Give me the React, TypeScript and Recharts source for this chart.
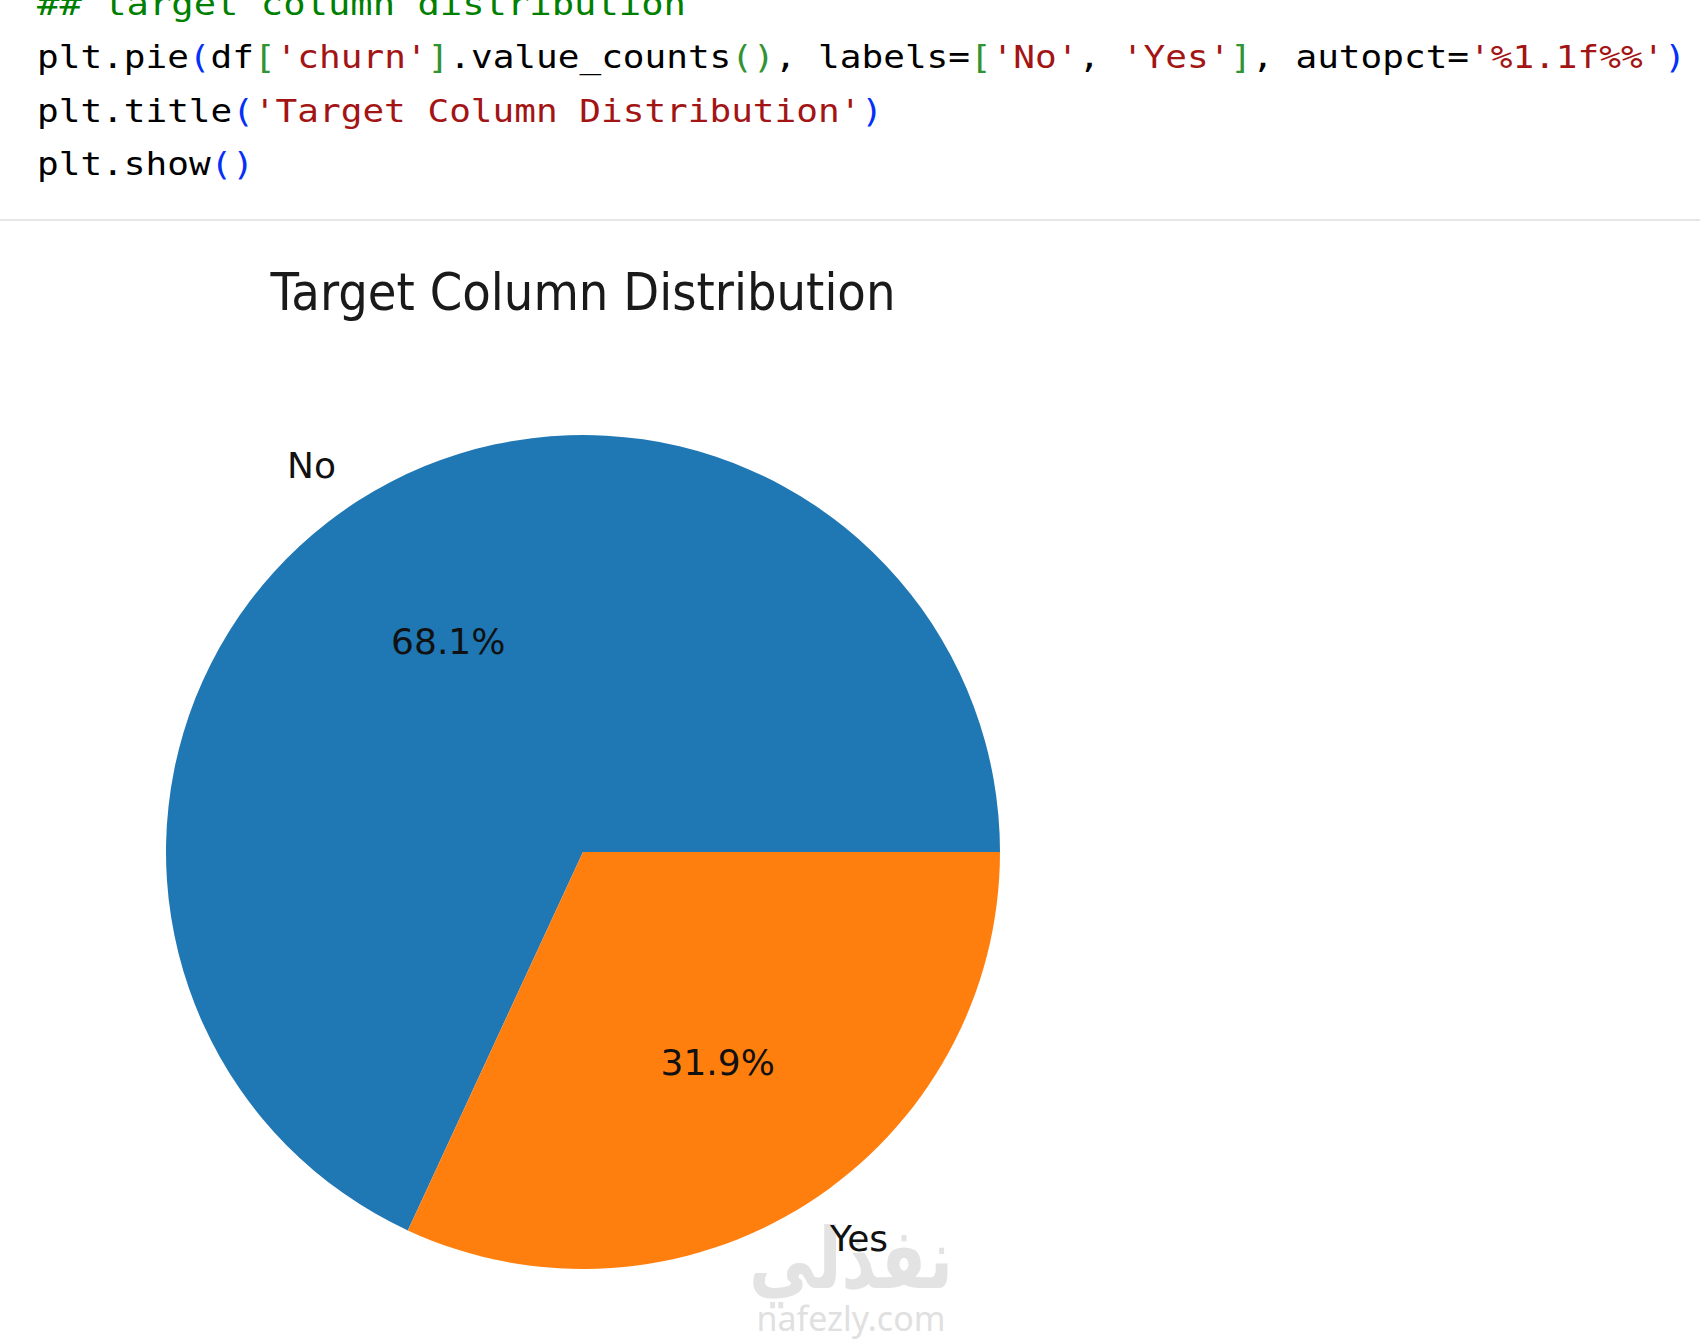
import { PieChart, Pie, Cell } from 'recharts'

// value_counts of churn, shown as shares
const categories = ['No', 'Yes']
const shares = [68.1, 31.9]
const sliceColors = ['#1f77b4', '#ff7f0e']

const pieData = categories.map((name, i) => ({ name, value: shares[i] }))

const K = '#000000'
const S = '#a31515'
const B1 = '#0431fa'
const B2 = '#319331'
const C = '#008000'

// notebook cell above the plot output
const codeLines: [string, string][][] = [
  [['## target column distribution', C]],
  [
    ['plt.pie', K], ['(', B1], ['df', K], ['[', B2], ["'churn'", S], [']', B2],
    ['.value_counts', K], ['()', B2], [', labels=', K], ['[', B2], ["'No'", S],
    [', ', K], ["'Yes'", S], [']', B2], [', autopct=', K], ["'%1.1f%%'", S], [')', B1],
  ],
  [['plt.title', K], ['(', B1], ["'Target Column Distribution'", S], [')', B1]],
  [['plt.show', K], ['()', B1]],
]
const codeBaselines = [15, 68, 122, 175]
const codeWidths = [649, 1649, 846, 217]

const W = 1700
const H = 1341
const RADIAN = Math.PI / 180

function SliceLabel({ cx, cy, midAngle, outerRadius, name, percent }: any) {
  const cos = Math.cos(-midAngle * RADIAN)
  const sin = Math.sin(-midAngle * RADIAN)
  const lx = cx + outerRadius * 1.1 * cos
  const ly = cy + outerRadius * 1.1 * sin
  const px = cx + outerRadius * 0.6 * cos
  const py = cy + outerRadius * 0.6 * sin
  return (
    <g style={{ fontFamily: 'DejaVu Sans', fontSize: 36 }}>
      <text x={lx} y={ly} fill="#111" textAnchor={lx > cx ? 'start' : 'end'} dominantBaseline="central">
        {name}
      </text>
      <text x={px} y={py} fill="#111" textAnchor="middle" dominantBaseline="central">
        {(percent * 100).toFixed(1)}%
      </text>
    </g>
  )
}

export default function App() {
  return (
    <div style={{ position: 'absolute', left: 0, top: 0, width: W, height: H, background: '#fff', overflow: 'hidden' }}>
      <svg width={W} height={H} style={{ position: 'absolute', left: 0, top: 0 }}>
        {codeLines.map((line, i) => (
          <text
            key={i}
            x={37}
            y={codeBaselines[i]}
            textLength={codeWidths[i]}
            lengthAdjust="spacingAndGlyphs"
            style={{ fontFamily: 'DejaVu Sans Mono', fontSize: 32, whiteSpace: 'pre' }}
          >
            {line.map((t, j) => (
              <tspan key={j} fill={t[1]}>{t[0]}</tspan>
            ))}
          </text>
        ))}
        <rect x={0} y={219} width={W} height={2} fill="#e6e6e6" />
        <text
          x={583}
          y={310}
          textAnchor="middle"
          textLength={625}
          lengthAdjust="spacingAndGlyphs"
          fill="#1a1a1a"
          style={{ fontFamily: 'DejaVu Sans', fontSize: 52 }}
        >
          Target Column Distribution
        </text>
        {/* watermark */}
        <text
          x={851}
          y={1288}
          textAnchor="middle"
          textLength={204}
          lengthAdjust="spacingAndGlyphs"
          fill="#e3e3e3"
          style={{ fontFamily: 'DejaVu Sans', fontSize: 84, fontWeight: 'bold' }}
        >
          نفذلي
        </text>
        <text
          x={851}
          y={1331}
          textAnchor="middle"
          textLength={189}
          lengthAdjust="spacingAndGlyphs"
          fill="#e0e0e0"
          style={{ fontFamily: 'Noto Sans', fontSize: 34 }}
        >
          nafezly.com
        </text>
      </svg>
      <div style={{ position: 'absolute', left: 0, top: 0 }}>
        <PieChart width={W} height={H} margin={{ top: 0, right: 0, bottom: 0, left: 0 }}>
          <Pie
            data={pieData}
            dataKey="value"
            nameKey="name"
            cx={583}
            cy={852}
            outerRadius={417}
            startAngle={0}
            endAngle={360}
            stroke="none"
            label={SliceLabel}
            labelLine={false}
            isAnimationActive={false}
          >
            {pieData.map((d, i) => (
              <Cell key={d.name} fill={sliceColors[i]} />
            ))}
          </Pie>
        </PieChart>
      </div>
    </div>
  )
}
